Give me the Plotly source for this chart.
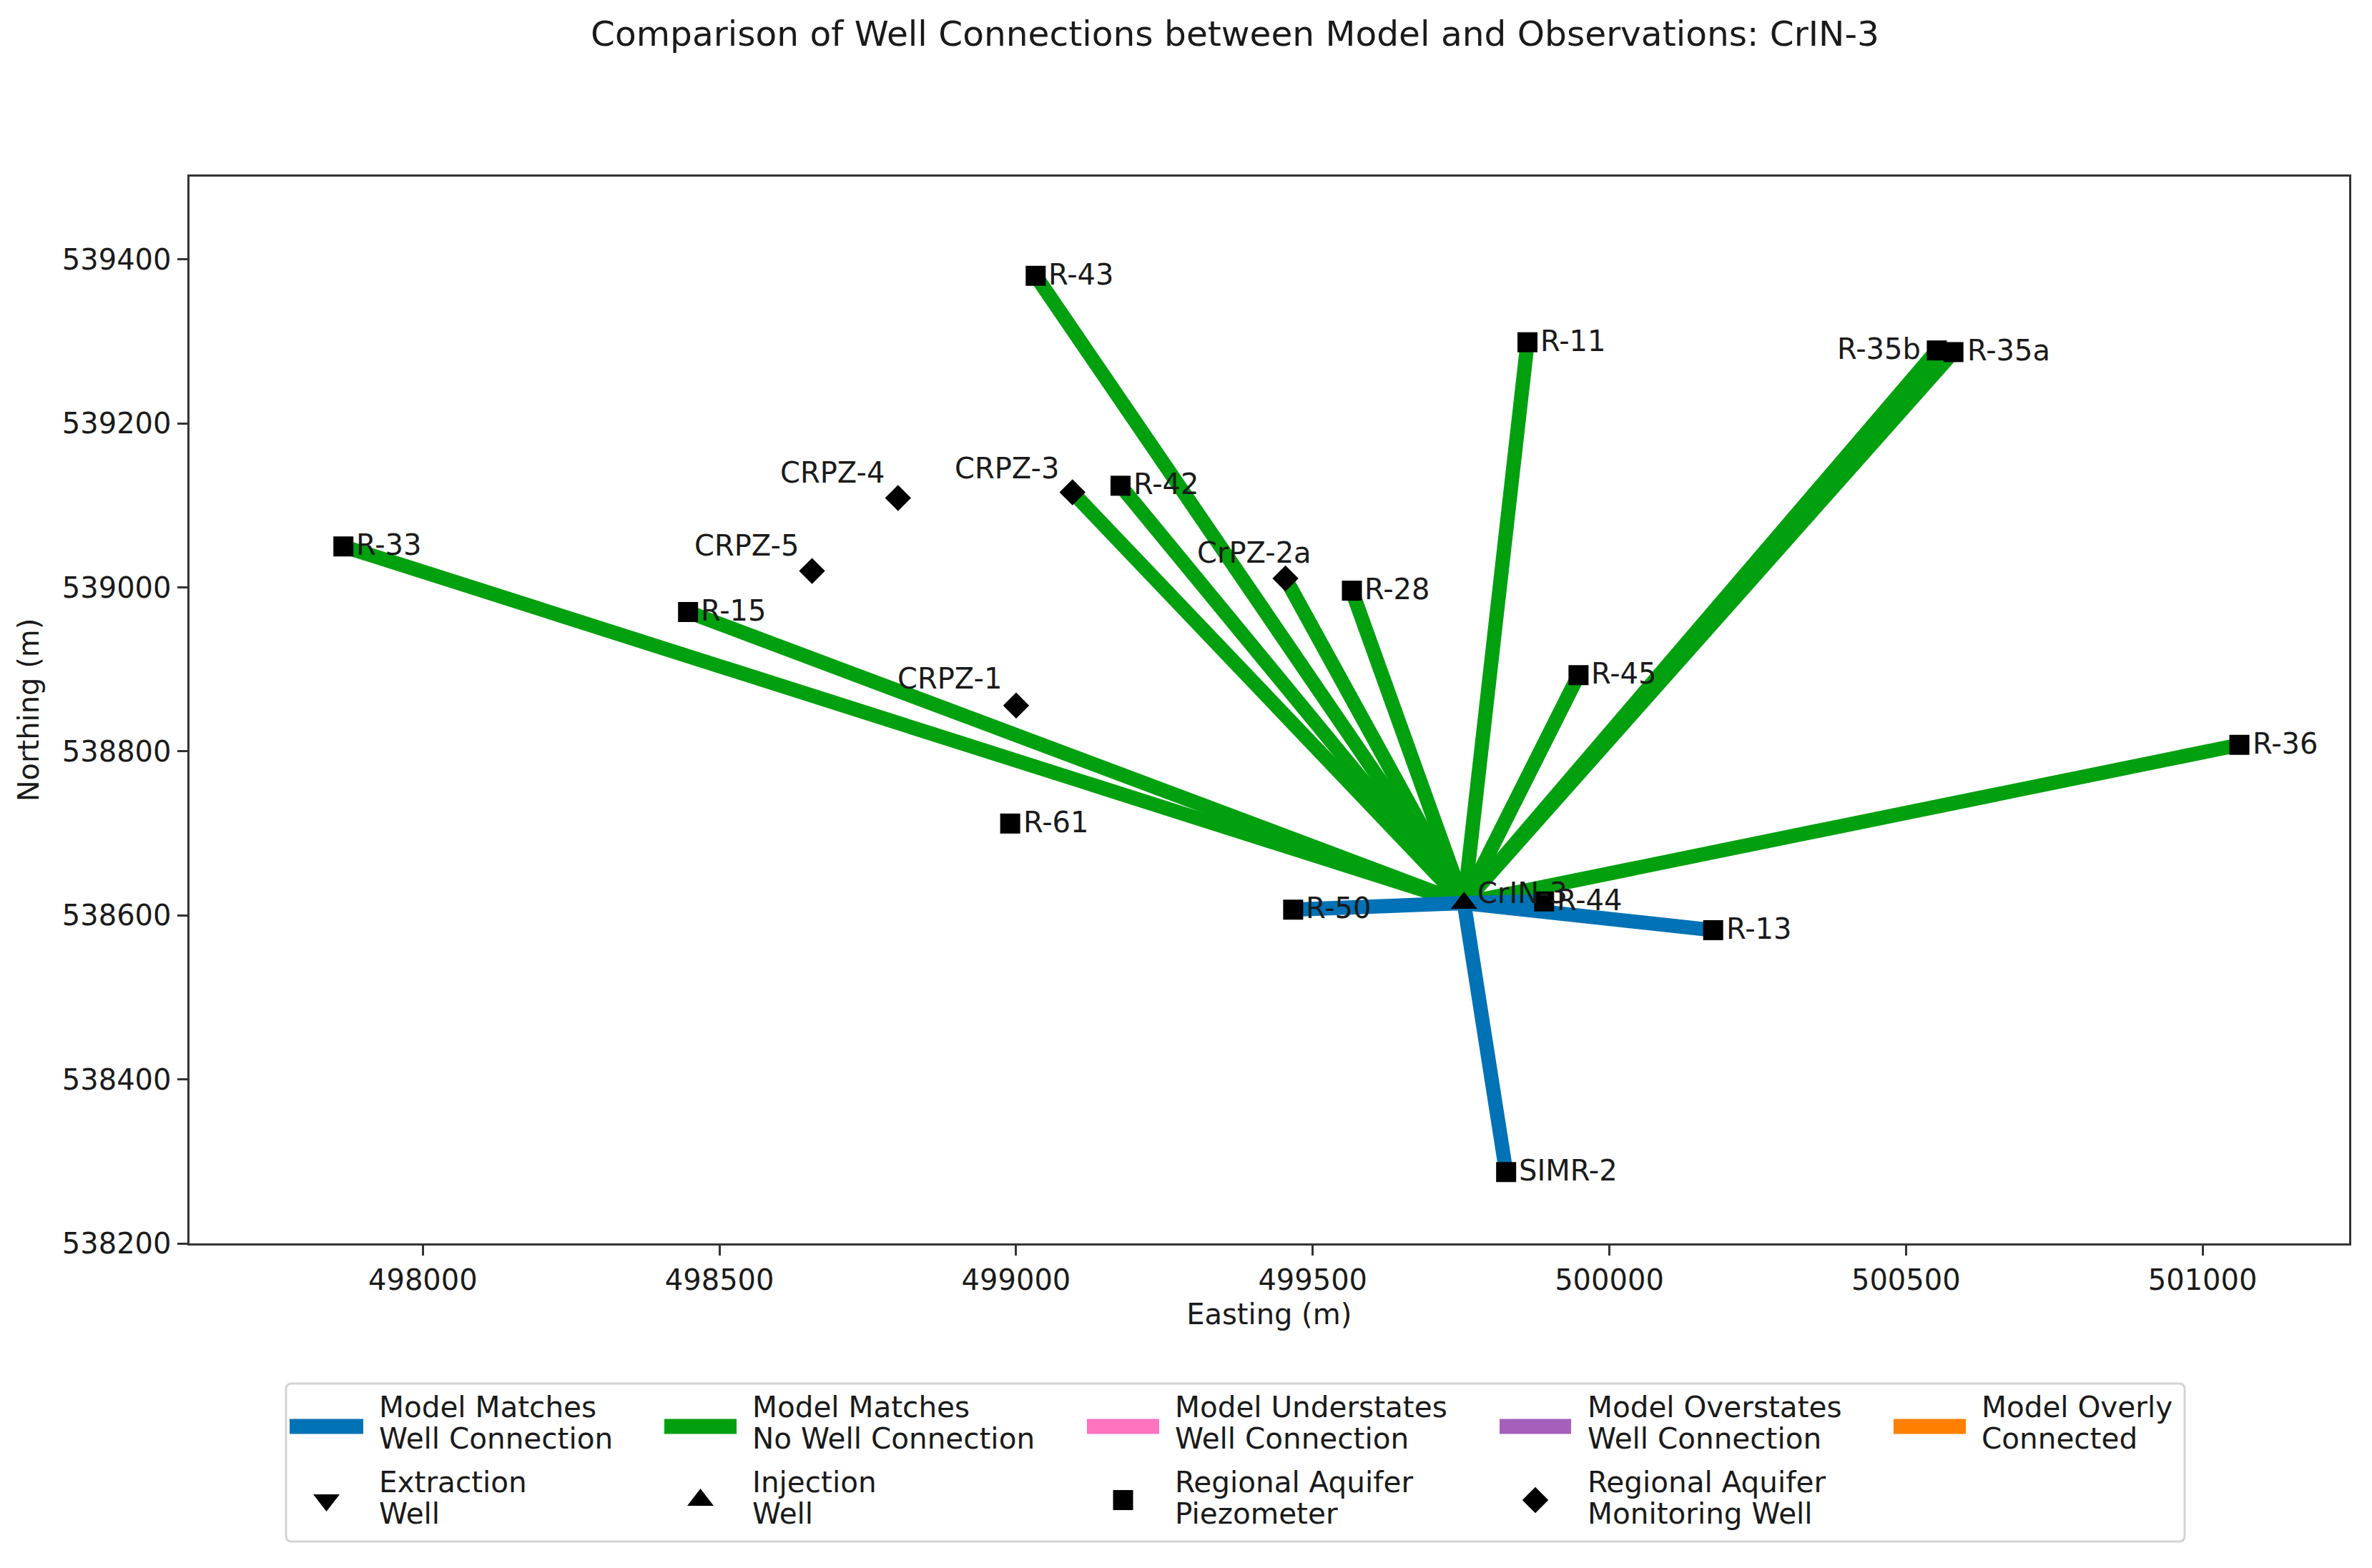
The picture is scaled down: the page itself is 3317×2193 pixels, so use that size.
import plotly.graph_objects as go

W, H = 3317, 2193
TITLE = "Comparison of Well Connections between Model and Observations: CrIN-3"

# --- data ---
source_name = "CrIN-3"
source_x = [499755]
source_y = [538615]

piezo_names = ["R-33", "R-15", "R-61", "R-42", "R-43", "R-28", "R-11", "R-45",
               "R-35b", "R-35a", "R-36", "R-44", "R-13", "R-50", "SIMR-2"]
piezo_x = [497866, 498447, 498990, 499176, 499033, 499566, 499862, 499948,
           500552, 500580, 501062, 499890, 500175, 499467, 499826]
piezo_y = [539050, 538970, 538712, 539124, 539380, 538996, 539299, 538893,
           539289, 539287, 538808, 538617, 538582, 538607, 538287]

monitor_names = ["CRPZ-1", "CRPZ-5", "CRPZ-4", "CRPZ-3", "CrPZ-2a"]
monitor_x = [499000, 498656, 498801, 499095, 499454]
monitor_y = [538856, 539020, 539109, 539116, 539011]

blue_links = ["R-50", "R-44", "R-13", "SIMR-2"]
green_links = ["R-33", "R-15", "CRPZ-3", "R-42", "R-43", "CrPZ-2a", "R-28",
               "R-11", "R-45", "R-35a", "R-35b", "R-36"]

x_ticks = [498000, 498500, 499000, 499500, 500000, 500500, 501000]
y_ticks = [538200, 538400, 538600, 538800, 539000, 539200, 539400]

legend_row1 = [("Model Matches", "Well Connection"), ("Model Matches", "No Well Connection"),
               ("Model Understates", "Well Connection"), ("Model Overstates", "Well Connection"),
               ("Model Overly", "Connected")]
legend_row2 = [("Extraction", "Well"), ("Injection", "Well"),
               ("Regional Aquifer", "Piezometer"), ("Regional Aquifer", "Monitoring Well")]

# --- styles ---
BLUE, GREEN, PINK, PURPLE, ORANGE = "#0072B5", "#00A00F", "#FF73BF", "#A560BE", "#FF8000"
row1_colors = [BLUE, GREEN, PINK, PURPLE, ORANGE]
row2_symbols = ["triangle-down", "triangle-up", "square", "diamond"]
FONT = "DejaVu Sans"
INK = "#1a1a1a"
LW = 20

AX = dict(l=264.5, r=3285, t=247, b=1739)
LG = dict(l=400, r=3055, t=1935, b=2156)
swatch_l = [405, 929, 1520, 2097, 2648]
swatch_r = [508, 1030, 1621, 2197, 2749]
text_l = [530, 1052, 1643, 2220, 2771]
ROW1_Y, ROW2_Y = 1995, 2098
LINE_GAP = 22
ROW_LABEL_Y = [1990, 2095]


def px(x):
    return x / W


def py(y):
    return 1 - y / H


def lgx(x):
    return (x - LG["l"]) / (LG["r"] - LG["l"])


def lgy(y):
    return (LG["b"] - y) / (LG["b"] - LG["t"])


pos = dict(zip(piezo_names, zip(piezo_x, piezo_y)))
pos.update(dict(zip(monitor_names, zip(monitor_x, monitor_y))))

fig = go.Figure()

for links, color, name in ((green_links, GREEN, "Model Matches No Well Connection"),
                           (blue_links, BLUE, "Model Matches Well Connection")):
    xs, ys = [], []
    for w in links:
        xs += [source_x[0], pos[w][0], None]
        ys += [source_y[0], pos[w][1], None]
    fig.add_trace(go.Scatter(x=xs, y=ys, mode="lines", name=name, showlegend=False,
                             line=dict(color=color, width=LW), hoverinfo="skip"))

fig.add_trace(go.Scatter(x=piezo_x, y=piezo_y, mode="markers", name="Regional Aquifer Piezometer",
                         showlegend=False, marker=dict(symbol="square", size=28, color="black")))
fig.add_trace(go.Scatter(x=monitor_x, y=monitor_y, mode="markers", name="Regional Aquifer Monitoring Well",
                         showlegend=False, marker=dict(symbol="diamond", size=28, color="black")))
fig.add_trace(go.Scatter(x=source_x, y=source_y, mode="markers", name="Injection Well",
                         showlegend=False, marker=dict(symbol="triangle-up", size=32, color="black")))

# well labels: default is to the right of the marker
default_label = ("left", 16, 2)
label_style = {
    "R-35b": ("right", -20, 2),
    "R-35a": ("left", 17, 2),
    "CRPZ-1": ("right", -18, 38),
    "CRPZ-3": ("right", -17, 34),
    "CRPZ-4": ("right", -17, 36),
    "CRPZ-5": ("right", -17, 36),
    "CrPZ-2a": ("right", 38, 36),
    source_name: ("left", 17, 14),
}
all_labels = [(n, *pos[n]) for n in pos] + [(source_name, source_x[0], source_y[0])]
for n, x, y in all_labels:
    anc, dx, dy = label_style.get(n, default_label)
    fig.add_annotation(x=x, y=y, xref="x", yref="y", text=n, showarrow=False, xanchor=anc,
                       yanchor="middle", xshift=dx, yshift=dy, font=dict(size=40, color=INK, family=FONT))

# hand-placed legend, as in the reference
r = 8
frame = (f"M {px(LG['l'] + r)} {py(LG['t'])} L {px(LG['r'] - r)} {py(LG['t'])} "
         f"Q {px(LG['r'])} {py(LG['t'])} {px(LG['r'])} {py(LG['t'] + r)} "
         f"L {px(LG['r'])} {py(LG['b'] - r)} Q {px(LG['r'])} {py(LG['b'])} {px(LG['r'] - r)} {py(LG['b'])} "
         f"L {px(LG['l'] + r)} {py(LG['b'])} Q {px(LG['l'])} {py(LG['b'])} {px(LG['l'])} {py(LG['b'] - r)} "
         f"L {px(LG['l'])} {py(LG['t'] + r)} Q {px(LG['l'])} {py(LG['t'])} {px(LG['l'] + r)} {py(LG['t'])} Z")
fig.add_shape(type="path", path=frame, xref="paper", yref="paper", line=dict(color="#d4d4d4", width=3),
              fillcolor="white", layer="below")

for i, c in enumerate(row1_colors):
    fig.add_trace(go.Scatter(x=[lgx(swatch_l[i]), lgx(swatch_r[i])], y=[lgy(ROW1_Y)] * 2, mode="lines",
                             xaxis="x2", yaxis="y2", showlegend=False, hoverinfo="skip",
                             line=dict(color=c, width=21)))
for i, s in enumerate(row2_symbols):
    size = {"triangle-down": 32, "triangle-up": 32, "square": 28, "diamond": 28}[s]
    fig.add_trace(go.Scatter(x=[lgx((swatch_l[i] + swatch_r[i]) / 2)], y=[lgy(ROW2_Y)], mode="markers",
                             xaxis="x2", yaxis="y2", showlegend=False, hoverinfo="skip",
                             marker=dict(symbol=s, size=size, color="black")))
for row, entries in enumerate((legend_row1, legend_row2)):
    for i, lines in enumerate(entries):
        for j, line in enumerate(lines):
            fig.add_annotation(x=px(text_l[i]), y=py(ROW_LABEL_Y[row] + (2 * j - 1) * LINE_GAP),
                               xref="paper", yref="paper", text=line, showarrow=False, xanchor="left",
                               yanchor="middle", xshift=-2, font=dict(size=40.5, color=INK, family=FONT))

axis_common = dict(showgrid=False, zeroline=False, showline=True, mirror=True, linecolor="#333333", linewidth=3,
                   ticks="outside", ticklen=14, tickwidth=3, tickcolor="#333333", automargin=False,
                   tickfont=dict(size=40, color=INK, family=FONT))
fig.update_layout(
    width=W, height=H, autosize=False, margin=dict(l=0, r=0, t=0, b=0, pad=0),
    paper_bgcolor="white", plot_bgcolor="white", showlegend=False,
    font=dict(family=FONT, size=40, color=INK),
    title=dict(text=TITLE, x=1727 / W, y=1 - 47 / H, xref="paper", yref="paper", xanchor="center", yanchor="middle",
               automargin=False, font=dict(size=48.6, color=INK, family=FONT)),
    xaxis=dict(axis_common, domain=[px(AX["l"]), px(AX["r"])], anchor="y", range=[497606, 501247],
               tickmode="array", tickvals=x_ticks, ticktext=[str(v) for v in x_ticks],
               title=dict(text="Easting (m)", standoff=12, font=dict(size=40, color=INK, family=FONT))),
    yaxis=dict(axis_common, domain=[py(AX["b"]), py(AX["t"])], anchor="x", range=[538200, 539501],
               tickmode="array", tickvals=y_ticks, ticktext=[str(v) for v in y_ticks],
               title=dict(text="Northing (m)", standoff=20, font=dict(size=40, color=INK, family=FONT))),
    xaxis2=dict(domain=[px(LG["l"]), px(LG["r"])], range=[0, 1], visible=False, anchor="y2", fixedrange=True, automargin=False),
    yaxis2=dict(domain=[py(LG["b"]), py(LG["t"])], range=[0, 1], visible=False, anchor="x2", fixedrange=True, automargin=False),
)

fig.write_html("out.html", config={"displayModeBar": False},
               post_script="document.body.style.margin='0';")
